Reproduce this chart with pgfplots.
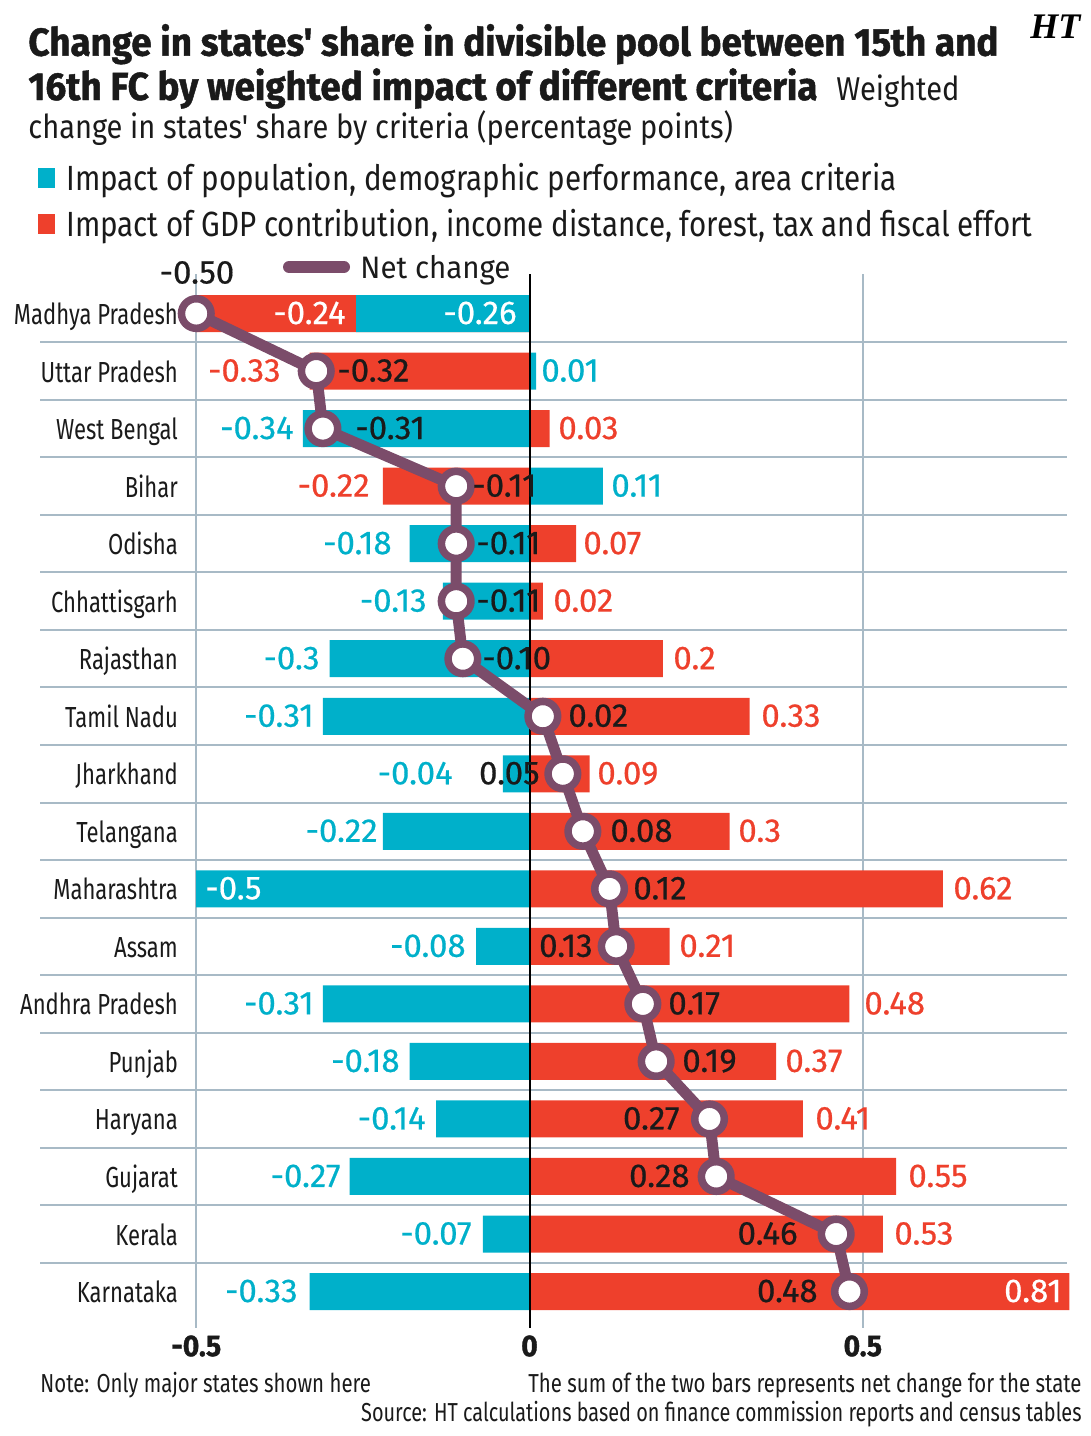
\documentclass[border=0pt]{standalone}
\usepackage{fontspec}
\usepackage{pgfplots}
\usepackage{pgfplotstable}
\pgfplotsset{compat=1.18}
\setmainfont{Fira Sans}
\newfontfamily\cond{Fira Sans}[FakeStretch=0.76]
\newfontfamily\condf{Fira Sans}[FakeStretch=0.785]
\newfontfamily\condg{Fira Sans}[FakeStretch=0.765]
\newfontfamily\legf{Fira Sans}[FakeStretch=0.845]
\newfontfamily\subf{Fira Sans}[FakeStretch=0.88]
\newfontfamily\netf{Fira Sans}[FakeStretch=0.95]
\newfontfamily\titlef{Fira Sans}[FakeStretch=0.944, BoldFeatures={FakeBold=1.2}]
\newfontfamily\numf{Fira Sans}[FakeBold=0.5]
\newfontfamily\htf{Liberation Serif}
\definecolor{cy}{RGB}{0,176,202}
\definecolor{rd}{RGB}{238,64,44}
\definecolor{pu}{RGB}{123,76,106}
\definecolor{gr}{RGB}{168,186,198}
\definecolor{tx}{RGB}{26,26,26}
\newcommand\numfont{\numf\fontsize{16.5pt}{19pt}\selectfont}
\newcommand\lab[5]{\node[anchor=base #1, text=#4, inner sep=0pt, font=\numfont] at (#2,{313.5+57.53*#3+10.5}) {#5};}

% i: row (top to bottom); red: GDP etc. impact; redend: end of red bar (stacked for MP); cyan: population etc. impact; net: net change
\pgfplotstableread{
i red redend cyan net
0 -0.24 -0.50 -0.26 -0.50
1 -0.33 -0.33 0.01 -0.32
2 0.03 0.03 -0.34 -0.31
3 -0.22 -0.22 0.11 -0.11
4 0.07 0.07 -0.18 -0.11
5 0.02 0.02 -0.13 -0.11
6 0.20 0.20 -0.30 -0.10
7 0.33 0.33 -0.31 0.02
8 0.09 0.09 -0.04 0.05
9 0.30 0.30 -0.22 0.08
10 0.62 0.62 -0.50 0.12
11 0.21 0.21 -0.08 0.13
12 0.48 0.48 -0.31 0.17
13 0.37 0.37 -0.18 0.19
14 0.41 0.41 -0.14 0.27
15 0.55 0.55 -0.27 0.28
16 0.53 0.53 -0.07 0.46
17 0.81 0.81 -0.33 0.48
}\data

\begin{document}
\begin{tikzpicture}
\begin{scope}[x=0.5pt,y=-0.5pt]
\useasboundingbox (0,0) rectangle (1091,1436);
% title
\node[anchor=base west, inner sep=0pt, font=\titlef\bfseries\fontsize{19.5pt}{22pt}\selectfont, text=tx] at (28,55.7) {Change in states' share in divisible pool between 15th and};
\node[anchor=base west, inner sep=0pt, font=\titlef\bfseries\fontsize{19.5pt}{22pt}\selectfont, text=tx] at (28,100) {16th FC by weighted impact of different criteria};
\node[anchor=base west, inner sep=0pt, font=\subf\fontsize{16.5pt}{20pt}\selectfont, text=tx] at (836,100) {Weighted};
\node[anchor=base west, inner sep=0pt, font=\subf\fontsize{16.5pt}{20pt}\selectfont, text=tx] at (28,138) {change in states' share by criteria (percentage points)};
\node[anchor=base west, inner sep=0pt, font=\htf\bfseries\itshape\fontsize{18pt}{20pt}\selectfont] at (1030,38) {HT};
% legend
\fill[cy] (38,168) rectangle (55,188);
\node[anchor=base west, inner sep=0pt, font=\legf\fontsize{17.5pt}{20pt}\selectfont, text=tx] at (66,190) {Impact of population, demographic performance, area criteria};
\fill[rd] (38,214) rectangle (55,234);
\node[anchor=base west, inner sep=0pt, font=\legf\fontsize{17.5pt}{20pt}\selectfont, text=tx] at (66,236) {Impact of GDP contribution, income distance, forest, tax and fiscal effort};
\draw[pu, line width=6pt, line cap=round] (289,267) -- (344,267);
\node[anchor=base west, inner sep=0pt, font=\netf\fontsize{15.5pt}{18pt}\selectfont, text=tx] at (360,278) {Net change};
% row separators
\foreach \k in {0,...,16} {
  \draw[gr, line width=1pt] (40,{313.5+57.53*(\k+0.5)}) -- (1067,{313.5+57.53*(\k+0.5)});
}
\end{scope}

\begin{axis}[
  at={(98.125pt,-137pt)}, anchor=north west,
  scale only axis, width=436.6pt, height=527pt,
  xmin=-0.5, xmax=0.81, ymin=-0.687, ymax=17.634, y dir=reverse,
  axis line style={draw=none},
  major tick style={draw=none},
  xtick={-0.5,0,0.5}, xticklabels={-0.5,0,0.5},
  xmajorgrids, grid style={color=gr, line width=1pt},
  xticklabel style={font=\titlef\bfseries\fontsize{15pt}{17pt}\selectfont, text=tx, anchor=north, inner sep=0pt, yshift=-3.5pt},
  ytick={0,...,17},
  yticklabels={Madhya Pradesh,Uttar Pradesh,West Bengal,Bihar,Odisha,Chhattisgarh,Rajasthan,Tamil Nadu,Jharkhand,Telangana,Maharashtra,Assam,Andhra Pradesh,Punjab,Haryana,Gujarat,Kerala,Karnataka},
  yticklabel style={font=\cond\fontsize{14.5pt}{17pt}\selectfont, text=tx, anchor=base east, inner sep=0pt, xshift=-9pt, yshift=-5.5pt},
  clip=false,
]
\addplot[xbar, bar width=18.5pt, bar shift=0pt, fill=rd, draw=none] table[x=redend, y=i] {\data};
\addplot[xbar, bar width=18.5pt, bar shift=0pt, fill=cy, draw=none] table[x=cyan, y=i] {\data};
\draw[black, line width=1pt] (axis cs:0,-0.687) -- (axis cs:0,17.634);
\addplot[pu, line width=5.5pt, line join=round, mark=*, mark size=7.4pt, mark options={fill=white, draw=pu, line width=3.75pt}] table[x=net, y=i] {\data};
\end{axis}

\begin{scope}[x=0.5pt,y=-0.5pt]
\node[anchor=base, inner sep=0pt, font=\numfont, text=tx] at (197,283.5) {-0.50};
\lab{east}{346}{0}{white}{-0.24}
\lab{east}{517}{0}{white}{-0.26}
\lab{east}{281}{1}{rd}{-0.33}
\lab{west}{541}{1}{cy}{0.01}
\lab{west}{337}{1}{tx}{-0.32}
\lab{east}{294}{2}{cy}{-0.34}
\lab{west}{558}{2}{rd}{0.03}
\lab{west}{355}{2}{tx}{-0.31}
\lab{east}{370}{3}{rd}{-0.22}
\lab{west}{611}{3}{cy}{0.11}
\lab{west}{472}{3}{tx}{-0.11}
\lab{east}{392}{4}{cy}{-0.18}
\lab{west}{583}{4}{rd}{0.07}
\lab{west}{476}{4}{tx}{-0.11}
\lab{east}{427}{5}{cy}{-0.13}
\lab{west}{553}{5}{rd}{0.02}
\lab{west}{476}{5}{tx}{-0.11}
\lab{east}{320}{6}{cy}{-0.3}
\lab{west}{673}{6}{rd}{0.2}
\lab{west}{482}{6}{tx}{-0.10}
\lab{east}{314}{7}{cy}{-0.31}
\lab{west}{761}{7}{rd}{0.33}
\lab{west}{568}{7}{tx}{0.02}
\lab{east}{453}{8}{cy}{-0.04}
\lab{west}{597}{8}{rd}{0.09}
\lab{east}{540}{8}{tx}{0.05}
\lab{east}{378}{9}{cy}{-0.22}
\lab{west}{738}{9}{rd}{0.3}
\lab{west}{610}{9}{tx}{0.08}
\lab{west}{205}{10}{white}{-0.5}
\lab{west}{953}{10}{rd}{0.62}
\lab{west}{633}{10}{tx}{0.12}
\lab{east}{466}{11}{cy}{-0.08}
\lab{west}{679}{11}{rd}{0.21}
\lab{east}{593}{11}{tx}{0.13}
\lab{east}{314}{12}{cy}{-0.31}
\lab{west}{864}{12}{rd}{0.48}
\lab{west}{668}{12}{tx}{0.17}
\lab{east}{400}{13}{cy}{-0.18}
\lab{west}{785}{13}{rd}{0.37}
\lab{west}{682}{13}{tx}{0.19}
\lab{east}{426}{14}{cy}{-0.14}
\lab{west}{815}{14}{rd}{0.41}
\lab{east}{680}{14}{tx}{0.27}
\lab{east}{341}{15}{cy}{-0.27}
\lab{west}{908}{15}{rd}{0.55}
\lab{east}{690}{15}{tx}{0.28}
\lab{east}{472}{16}{cy}{-0.07}
\lab{west}{894}{16}{rd}{0.53}
\lab{east}{798}{16}{tx}{0.46}
\lab{east}{298}{17}{cy}{-0.33}
\lab{east}{1062}{17}{white}{0.81}
\lab{east}{818}{17}{tx}{0.48}
% footer
\node[anchor=base west, inner sep=0pt, font=\condf\fontsize{13pt}{15pt}\selectfont, text=tx] at (40,1392) {Note: Only major states shown here};
\node[anchor=base east, inner sep=0pt, font=\condf\fontsize{13pt}{15pt}\selectfont, text=tx] at (1082,1392) {The sum of the two bars represents net change for the state};
\node[anchor=base east, inner sep=0pt, font=\condg\fontsize{13pt}{15pt}\selectfont, text=tx] at (1082,1421) {Source: HT calculations based on finance commission reports and census tables};
\end{scope}
\end{tikzpicture}
\end{document}
